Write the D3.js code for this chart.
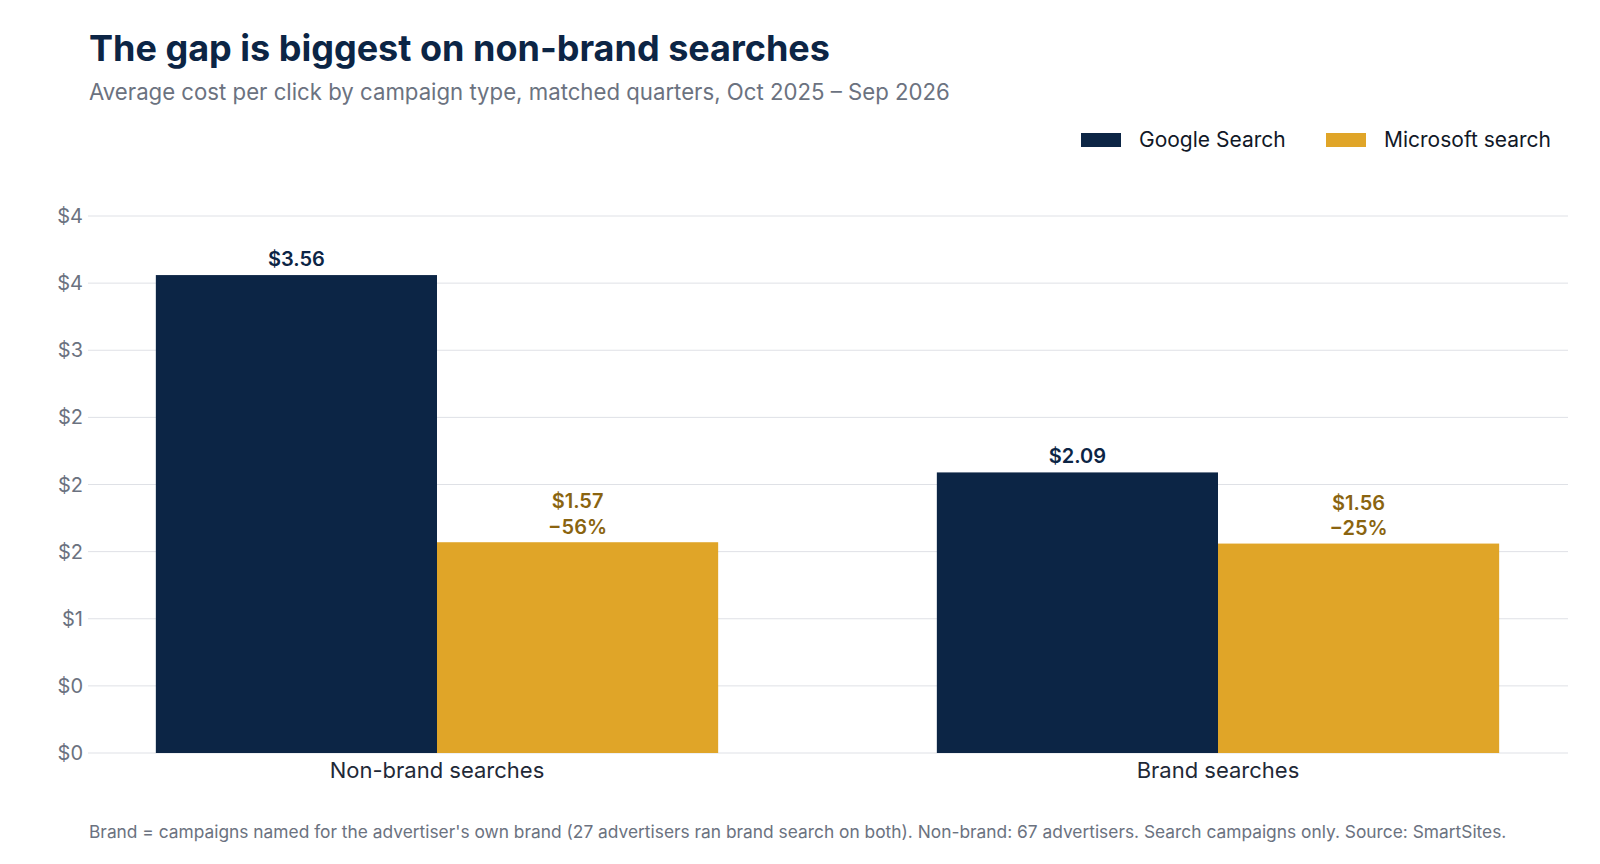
<!DOCTYPE html>
<html>
<head>
<meta charset="utf-8">
<script src="https://cdn.jsdelivr.net/npm/d3@7"></script>
<style>
  body { margin: 0; background: #fff; }
  svg { display: block; font-family: Inter, "Noto Sans", sans-serif; }
</style>
</head>
<body>
<svg width="1600" height="864"></svg>
<script>
var categories = ["Non-brand searches", "Brand searches"];
var seriesNames = ["Google Search", "Microsoft search"];
var google = [3.56, 2.09];
var microsoft = [1.57, 1.56];
var gapLabels = ["\u221256%", "\u221225%"];
var tickValues = [0, 0.5, 1, 1.5, 2, 2.5, 3, 3.5, 4];
var tickLabels = ["$0", "$0", "$1", "$2", "$2", "$2", "$3", "$4", "$4"];

var colors = { "Google Search": "#0c2545", "Microsoft search": "#e0a528" };
var labelColors = { "Google Search": "#0c2545", "Microsoft search": "#8a6410" };

var svg = d3.select("svg"),
    width = +svg.attr("width"),
    height = +svg.attr("height");

var gridLeft = 88, gridRight = 1568;

var x = d3.scaleBand()
    .domain(categories)
    .range([46.5, 1608.5])
    .paddingInner(0.28)
    .paddingOuter(0.14);

var xs = d3.scaleBand()
    .domain(seriesNames)
    .range([0, x.bandwidth()]);

var y = d3.scaleLinear()
    .domain([0, 4])
    .range([753, 216]);

// title + subtitle
svg.append("text")
    .attr("x", 89).attr("y", 61)
    .style("font-size", "36px").style("font-weight", 700)
    .style("fill", "#0c2545")
    .text("The gap is biggest on non-brand searches");

svg.append("text")
    .attr("x", 89).attr("y", 100)
    .style("font-size", "22.2px")
    .style("fill", "#6b7280")
    .text("Average cost per click by campaign type, matched quarters, Oct 2025 \u2013 Sep 2026");

// legend
var legendX = [1081, 1326];
var legend = svg.selectAll(".legend")
    .data(seriesNames)
    .enter().append("g")
    .attr("class", "legend")
    .attr("transform", function (d, i) { return "translate(" + legendX[i] + ",133)"; });

legend.append("rect")
    .attr("width", 40).attr("height", 14)
    .style("fill", function (d) { return colors[d]; });

legend.append("text")
    .attr("x", 58).attr("y", 14)
    .style("font-size", "21px")
    .style("fill", "#111827")
    .text(function (d) { return d; });

// gridlines + y labels
var yAxis = svg.append("g");
yAxis.selectAll("line")
    .data(tickValues)
    .enter().append("line")
    .attr("x1", gridLeft).attr("x2", gridRight)
    .attr("y1", function (d) { return y(d); })
    .attr("y2", function (d) { return y(d); })
    .style("stroke", "#dfe1e6")
    .style("stroke-width", 1);

yAxis.selectAll("text")
    .data(tickValues)
    .enter().append("text")
    .attr("x", 83)
    .attr("y", function (d) { return y(d); })
    .attr("dy", "0.35em")
    .attr("text-anchor", "end")
    .style("font-size", "20px")
    .style("fill", "#6b7280")
    .text(function (d, i) { return tickLabels[i]; });

// bars
var rows = [];
categories.forEach(function (c, i) {
    rows.push({ cat: c, series: "Google Search", value: google[i] });
    rows.push({ cat: c, series: "Microsoft search", value: microsoft[i], gap: gapLabels[i] });
});

var bars = svg.append("g");
bars.selectAll("rect")
    .data(rows)
    .enter().append("rect")
    .attr("x", function (d) { return x(d.cat) + xs(d.series); })
    .attr("width", xs.bandwidth())
    .attr("y", function (d) { return y(d.value); })
    .attr("height", function (d) { return y(0) - y(d.value); })
    .style("fill", function (d) { return colors[d.series]; });

// value labels
var labels = svg.append("g")
    .selectAll("text")
    .data(rows)
    .enter().append("text")
    .attr("text-anchor", "middle")
    .attr("x", function (d) { return x(d.cat) + xs(d.series) + xs.bandwidth() / 2; })
    .attr("y", function (d) { return y(d.value) - (d.gap ? 34 : 9); })
    .style("font-size", "20px").style("font-weight", 600)
    .style("fill", function (d) { return labelColors[d.series]; });

labels.append("tspan")
    .attr("x", function (d) { return x(d.cat) + xs(d.series) + xs.bandwidth() / 2; })
    .text(function (d) { return "$" + d.value.toFixed(2); });

labels.filter(function (d) { return d.gap; })
    .append("tspan")
    .attr("x", function (d) { return x(d.cat) + xs(d.series) + xs.bandwidth() / 2; })
    .attr("dy", 25.5)
    .text(function (d) { return d.gap; });

// x category labels
svg.append("g").selectAll("text")
    .data(categories)
    .enter().append("text")
    .attr("x", function (d) { return x(d) + x.bandwidth() / 2; })
    .attr("y", 778)
    .attr("text-anchor", "middle")
    .style("font-size", "22px")
    .style("fill", "#1f2937")
    .text(function (d) { return d; });

// footnote
svg.append("text")
    .attr("x", 89).attr("y", 838)
    .style("font-size", "17.35px")
    .style("fill", "#6b7280")
    .text("Brand = campaigns named for the advertiser's own brand (27 advertisers ran brand search on both). Non-brand: 67 advertisers. Search campaigns only. Source: SmartSites.");
</script>
</body>
</html>
